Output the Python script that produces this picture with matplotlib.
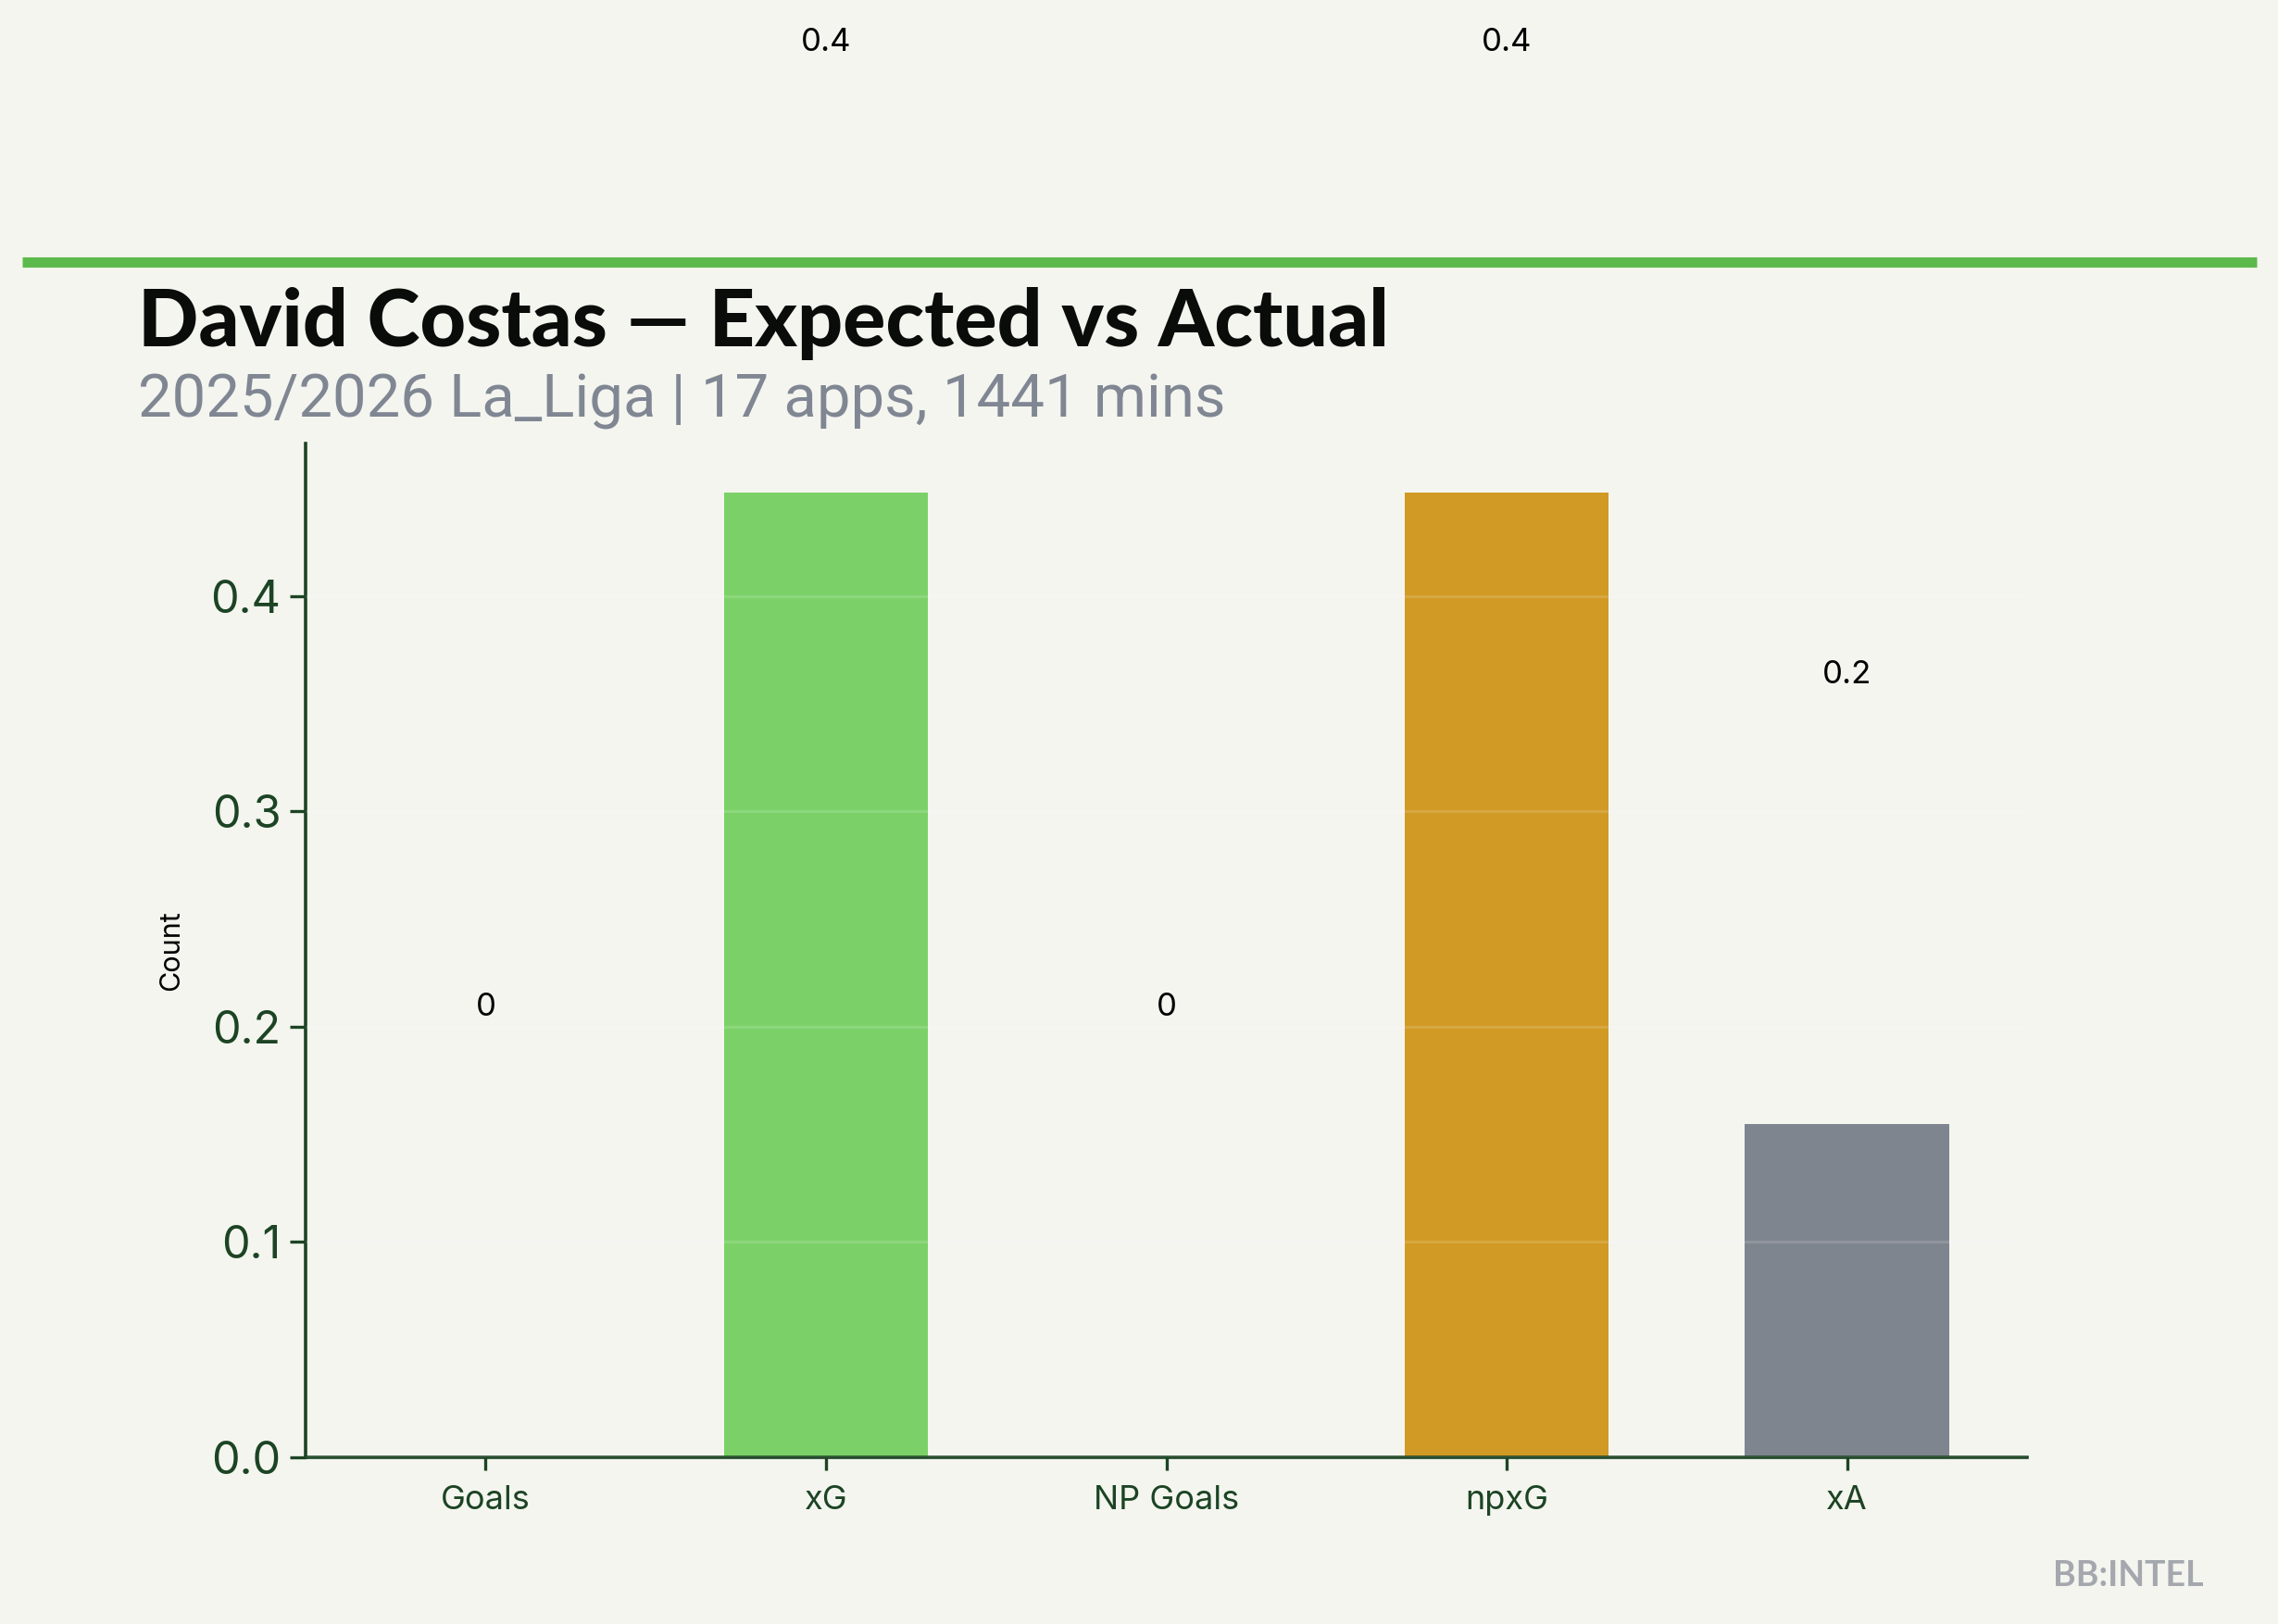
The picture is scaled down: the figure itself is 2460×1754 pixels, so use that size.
import numpy as np
import matplotlib
matplotlib.use("Agg")
import matplotlib.pyplot as plt

# data
metrics = ["Goals", "xG", "NP Goals", "npxG", "xA"]
values = [0.0, 0.448, 0.0, 0.448, 0.1545]
bar_colors = ["#7BD168", "#7BD168", "#D19A24", "#D19A24", "#7F858F"]
title = "David Costas \u2014 Expected vs Actual"
subtitle = "2025/2026 La_Liga | 17 apps, 1441 mins"

BG = "#F4F5EF"
DARK = "#1C4424"

plt.rcParams["font.family"] = ["Inter", "DejaVu Sans"]

fig = plt.figure(figsize=(12.3, 8.77), dpi=200, facecolor=BG)
ax = fig.add_axes([0.134, 0.1029, 0.756, 0.6242], facecolor=BG)

x = np.arange(len(metrics))
ax.bar(x, values, width=0.6, color=bar_colors, zorder=2)

# value labels (offset used by the original)
for xi, v in zip(x, values):
    lbl = "0" if v == 0 else f"{v:.1f}"
    ax.text(xi, v + 0.209, lbl, ha="center", va="center", fontsize=12.5,
            color="black", clip_on=False)

ax.set_ylim(0, 0.471)
ax.set_xticks(x)
ax.set_xticklabels(metrics, fontsize=13, color=DARK)
ax.tick_params(axis="y", labelsize=17.5, colors=DARK, length=6, width=1.2)
ax.tick_params(axis="x", colors=DARK, length=5, width=1.2, pad=6)
ax.set_yticks([0.0, 0.1, 0.2, 0.3, 0.4])
ax.yaxis.grid(True, color="white", alpha=0.15, linewidth=1.0, zorder=3)
ax.set_axisbelow(False)
ax.set_ylabel("Count", fontsize=11, color="black", labelpad=10)

for s in ["top", "right"]:
    ax.spines[s].set_visible(False)
for s in ["left", "bottom"]:
    ax.spines[s].set_color(DARK)
    ax.spines[s].set_linewidth(1.3)

# header
fig.add_artist(plt.Line2D([0.0096, 0.9905], [0.8385, 0.8385], color="#5BBA4B",
                          linewidth=4, solid_capstyle="butt",
                          transform=fig.transFigure))
fig.text(0.0606, 0.787, title, fontsize=31, fontweight="black", color="#0A0C0A",
         family=["Lato", "DejaVu Sans"], ha="left", va="baseline")
fig.text(0.0606, 0.743, subtitle, fontsize=23.5, color="#808793",
         family=["Roboto", "DejaVu Sans"], ha="left", va="baseline")
fig.text(0.9675, 0.0295, "BB:INTEL", fontsize=13.5, fontweight="bold",
         color="#A4A8AE", ha="right", va="center",
         family=["Lato", "DejaVu Sans"])

fig.savefig("out.png", dpi=200, facecolor=BG)
